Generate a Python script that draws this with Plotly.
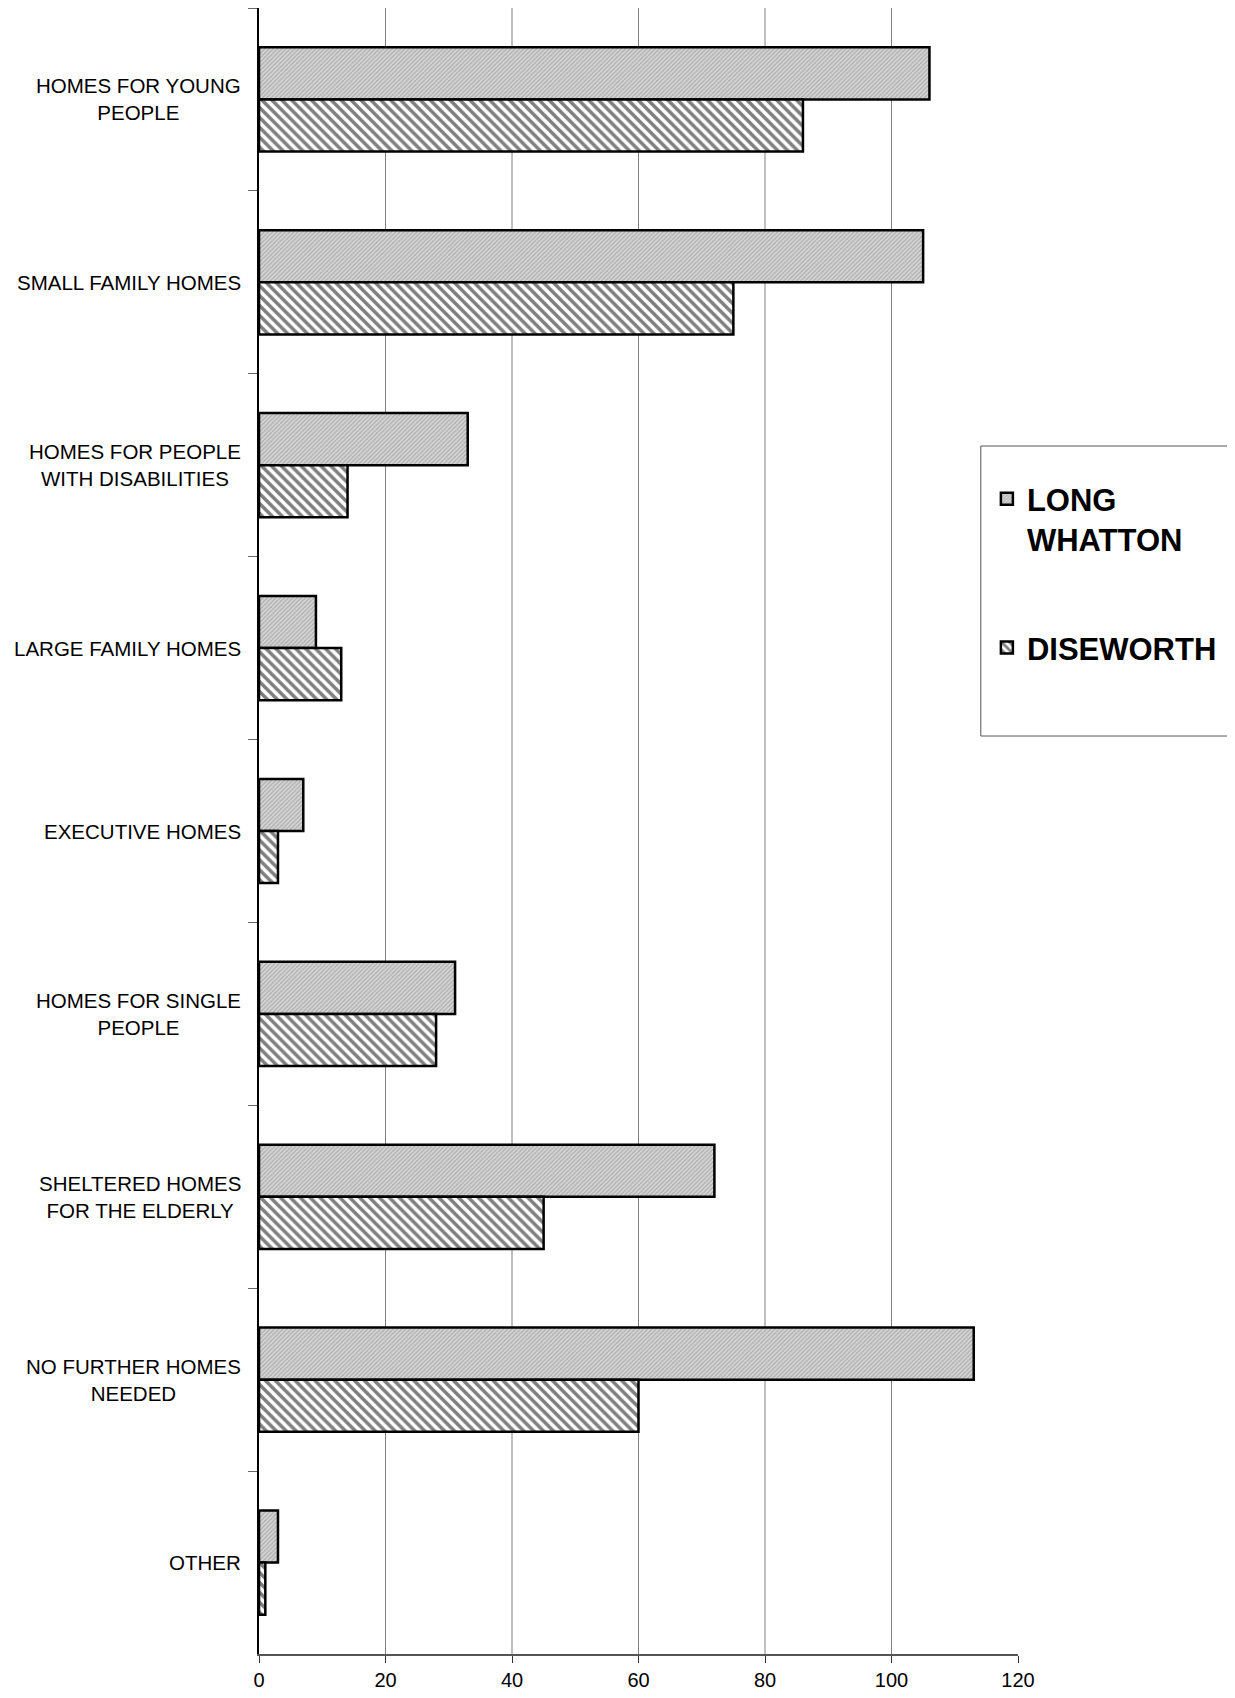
"""Housing needs: Long Whatton vs Diseworth, horizontal grouped bars."""

import plotly.graph_objects as go

CATEGORIES = [
    "HOMES FOR YOUNG PEOPLE",
    "SMALL FAMILY HOMES",
    "HOMES FOR PEOPLE WITH DISABILITIES",
    "LARGE FAMILY HOMES",
    "EXECUTIVE HOMES",
    "HOMES FOR SINGLE PEOPLE",
    "SHELTERED HOMES FOR THE ELDERLY",
    "NO FURTHER HOMES NEEDED",
    "OTHER",
]
CATEGORY_LABELS = [
    "HOMES FOR YOUNG<br>PEOPLE",
    "SMALL FAMILY HOMES",
    "HOMES FOR PEOPLE<br>WITH DISABILITIES",
    "LARGE FAMILY HOMES",
    "EXECUTIVE HOMES",
    "HOMES FOR SINGLE<br>PEOPLE",
    "SHELTERED HOMES<br>FOR THE ELDERLY",
    "NO FURTHER HOMES<br>NEEDED",
    "OTHER",
]
LONG_WHATTON = [106, 105, 33, 9, 7, 31, 72, 113, 3]
DISEWORTH = [86, 75, 14, 13, 3, 28, 45, 60, 1]
X_TICKS = [0, 20, 40, 60, 80, 100, 120]
GRID_LINES = [20, 40, 60, 80, 100]

FONT = "Liberation Sans, Arial, sans-serif"

fig = go.Figure()

fig.add_trace(
    go.Bar(
        y=CATEGORIES,
        x=LONG_WHATTON,
        orientation="h",
        name="LONG<br>WHATTON",
        legendgroup="lw",
        marker=dict(
            color="#d6d6d6",
            line=dict(color="black", width=2.5),
            pattern=dict(shape="/", fgcolor="#808080", size=3, solidity=0.4),
        ),
    )
)
fig.add_trace(
    go.Bar(
        y=CATEGORIES,
        x=DISEWORTH,
        orientation="h",
        name="DISEWORTH",
        legendgroup="dw",
        marker=dict(
            color="white",
            line=dict(color="black", width=2.5),
            pattern=dict(shape="\\", fgcolor="black", size=7, solidity=0.5),
        ),
    )
)

# vertical gridlines (none at the right edge, as in the original)
for gx in GRID_LINES:
    fig.add_shape(
        type="line", xref="x", yref="paper", x0=gx, x1=gx, y0=0, y1=1,
        line=dict(color="#808080", width=1), layer="below",
    )

# legend frame: open on the right, it runs off the page
frame = dict(color="#555555", width=1)
fig.add_shape(type="line", xref="paper", yref="paper",
              x0=0.951, x1=0.951, y0=0.5577, y1=0.7339, line=frame)
fig.add_shape(type="line", xref="paper", yref="paper",
              x0=0.951, x1=1.4, y0=0.7339, y1=0.7339, line=frame)
fig.add_shape(type="line", xref="paper", yref="paper",
              x0=0.951, x1=1.4, y0=0.5577, y1=0.5577, line=frame)

# category labels: right-aligned block, centred lines
for cat, lab in zip(CATEGORIES, CATEGORY_LABELS):
    fig.add_annotation(
        x=0, xref="paper", y=cat, yref="y", text=lab,
        xanchor="right", xshift=-16, align="center", showarrow=False,
        font=dict(family=FONT, size=20.5, color="black"),
    )

fig.update_layout(
    width=1219,
    height=1682,
    margin=dict(l=251, r=209, t=0, b=36, autoexpand=False),
    paper_bgcolor="white",
    plot_bgcolor="white",
    barmode="group",
    bargap=0.43,
    bargroupgap=0,
    font=dict(family=FONT, size=20, color="black"),
    xaxis=dict(
        range=[0, 120],
        tickvals=X_TICKS,
        showgrid=False,
        zeroline=False,
        showline=True,
        linecolor="#555555",
        linewidth=1.5,
        ticks="outside",
        ticklen=7,
        tickcolor="#333333",
        tickfont=dict(family=FONT, size=20, color="black"),
    ),
    yaxis=dict(
        categoryorder="array",
        categoryarray=CATEGORIES,
        autorange="reversed",
        showticklabels=False,
        showgrid=False,
        zeroline=False,
        showline=True,
        linecolor="black",
        linewidth=1.5,
        ticks="outside",
        tickson="boundaries",
        ticklen=9,
        tickcolor="#666666",
    ),
    legend=dict(
        x=0.959,
        y=0.718,
        xanchor="left",
        yanchor="top",
        traceorder="grouped",
        valign="top",
        tracegroupgap=65,
        borderwidth=0,
        bgcolor="rgba(0,0,0,0)",
        font=dict(family=FONT, size=31, color="black", weight="bold"),
        itemwidth=30,
    ),
)

fig.write_html("out.html")
